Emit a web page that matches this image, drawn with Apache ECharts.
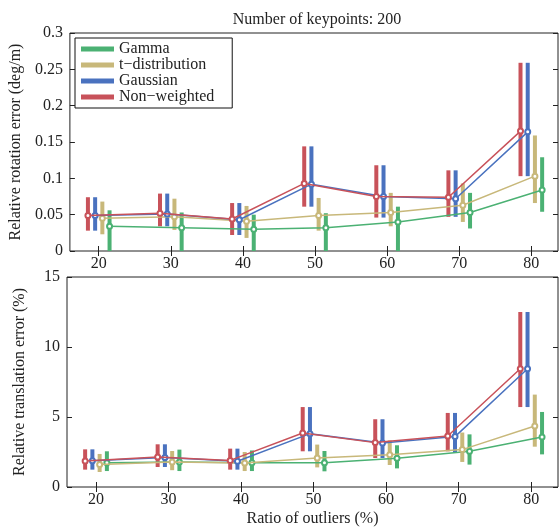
<!DOCTYPE html>
<html><head><meta charset="utf-8">
<script src="https://cdn.jsdelivr.net/npm/echarts@6/dist/echarts.min.js"></script>
<style>html,body{margin:0;padding:0;background:#fff}#c{width:560px;height:529px}</style>
</head><body><div id="c"></div>
<script>
const categories = [20, 30, 40, 50, 60, 70, 80];
const seriesNames = ['Gamma', 't\u2212distribution', 'Gaussian', 'Non\u2212weighted'];
const xTicks = [20, 30, 40, 50, 60, 70, 80];
const rotTicks = [0, 0.05, 0.1, 0.15, 0.2, 0.25, 0.3];
const transTicks = [0, 5, 10, 15];

// Rotation error (deg/m): median, lower, upper
const gammaRot   = [0.034, 0.032, 0.030, 0.032, 0.040, 0.053, 0.084];
const gammaRotLo = [0, 0, 0, 0, 0, 0.031, 0.054];
const gammaRotHi = [0.056, 0.053, 0.050, 0.052, 0.061, 0.080, 0.129];
const tRot   = [0.045, 0.047, 0.041, 0.049, 0.053, 0.063, 0.103];
const tRotLo = [0.023, 0.029, 0.018, 0.028, 0.034, 0.040, 0.066];
const tRotHi = [0.068, 0.072, 0.062, 0.073, 0.080, 0.093, 0.159];
const gaussRot   = [0.049, 0.051, 0.043, 0.092, 0.075, 0.072, 0.164];
const gaussRotLo = [0.028, 0.034, 0.022, 0.061, 0.046, 0.047, 0.103];
const gaussRotHi = [0.074, 0.079, 0.066, 0.144, 0.118, 0.111, 0.259];
const nwRot   = [0.049, 0.052, 0.044, 0.093, 0.075, 0.074, 0.165];
const nwRotLo = [0.028, 0.034, 0.022, 0.061, 0.046, 0.047, 0.103];
const nwRotHi = [0.074, 0.079, 0.066, 0.144, 0.118, 0.111, 0.259];

// Translation error (%): median, lower, upper
const gammaTr   = [1.74, 1.79, 1.74, 1.74, 2.05, 2.55, 3.57];
const gammaTrLo = [1.14, 1.14, 1.14, 1.12, 1.33, 1.60, 2.33];
const gammaTrHi = [2.55, 2.67, 2.61, 2.57, 2.98, 3.76, 5.36];
const tTr   = [1.60, 1.79, 1.71, 2.08, 2.31, 2.67, 4.36];
const tTrLo = [1.07, 1.20, 1.14, 1.40, 1.57, 1.79, 2.88];
const tTrHi = [2.36, 2.57, 2.50, 3.03, 3.33, 3.89, 6.60];
const gaussTr   = [1.87, 2.10, 1.84, 3.81, 3.14, 3.60, 8.45];
const gaussTrLo = [1.24, 1.43, 1.24, 2.55, 2.07, 2.45, 5.71];
const gaussTrHi = [2.69, 3.05, 2.74, 5.71, 4.84, 5.29, 12.50];
const nwTr   = [1.85, 2.14, 1.90, 3.86, 3.17, 3.64, 8.45];
const nwTrLo = [1.24, 1.43, 1.24, 2.55, 2.07, 2.55, 5.71];
const nwTrHi = [2.69, 3.05, 2.74, 5.71, 4.84, 5.29, 12.50];

const colors = ['#4BB173', '#C8B87A', '#4A72BF', '#C8525A'];
const offsets = [1.5, 0.5, -0.5, -1.5];
const FONT = "'Liberation Serif', 'DejaVu Serif', serif";
const TXT = '#222';

const rotSets = [[gammaRot, gammaRotLo, gammaRotHi], [tRot, tRotLo, tRotHi], [gaussRot, gaussRotLo, gaussRotHi], [nwRot, nwRotLo, nwRotHi]];
const trSets = [[gammaTr, gammaTrLo, gammaTrHi], [tTr, tTrLo, tTrHi], [gaussTr, gaussTrLo, gaussTrHi], [nwTr, nwTrLo, nwTrHi]];

function barRender(color) {
  return function (params, api) {
    const x = api.value(0), lo = api.value(1), hi = api.value(2);
    const p1 = api.coord([x, hi]);
    const p2 = api.coord([x, lo]);
    return {
      type: 'rect',
      shape: { x: p1[0] - 2, y: p1[1], width: 4, height: p2[1] - p1[1] },
      style: { fill: color }
    };
  };
}

const series = [];
function addPanel(sets, xi, yi) {
  sets.forEach((s, k) => {
    series.push({
      type: 'custom', name: seriesNames[k], xAxisIndex: xi, yAxisIndex: yi, clip: true,
      renderItem: barRender(colors[k]), itemStyle: { color: colors[k] }, z: 2,
      data: categories.map((c, i) => [c + offsets[k], s[1][i], s[2][i]])
    });
  });
  sets.forEach((s, k) => {
    series.push({
      type: 'line', name: seriesNames[k], xAxisIndex: xi, yAxisIndex: yi,
      symbol: 'emptyCircle', symbolSize: 5, z: 3 + k,
      lineStyle: { color: colors[k], width: 1.5 },
      itemStyle: { color: colors[k], borderWidth: 1 },
      data: categories.map((c, i) => [c + offsets[k], s[0][i]])
    });
  });
}
addPanel(rotSets, 0, 0);
addPanel(trSets, 2, 2);

function xAx(gi, pos, labels, name) {
  return {
    type: 'value', gridIndex: gi, position: pos, min: 16, max: 83.7,
    axisLine: { show: false },
    axisTick: { show: true, inside: true, length: 5, customValues: xTicks, lineStyle: { color: TXT } },
    axisLabel: { show: labels, customValues: xTicks, margin: 5, fontFamily: FONT, fontSize: 16, color: TXT },
    splitLine: { show: false },
    name: name || '', nameLocation: 'middle', nameGap: 24,
    nameTextStyle: { fontFamily: FONT, fontSize: 16, color: TXT }
  };
}
function yAx(gi, pos, labels, max, interval, name) {
  return {
    type: 'value', gridIndex: gi, position: pos, min: 0, max: max, interval: interval,
    axisLine: { show: false },
    axisTick: { show: true, inside: true, length: 5, lineStyle: { color: TXT } },
    axisLabel: { show: labels, margin: 7, fontFamily: FONT, fontSize: 16, color: TXT },
    splitLine: { show: false },
    name: name || '', nameLocation: 'middle', nameGap: 39, nameRotate: 90,
    nameTextStyle: { fontFamily: FONT, fontSize: 16, color: TXT }
  };
}

const option = {
  animation: false,
  backgroundColor: '#fff',
  title: {
    text: 'Number of keypoints: 200', left: 312, top: 7, textAlign: 'center',
    textStyle: { fontFamily: FONT, fontSize: 16, fontWeight: 'normal', color: TXT }
  },
  legend: {
    data: seriesNames.map(n => ({ name: n, icon: 'rect' })),
    orient: 'vertical', left: 75, top: 38,
    itemWidth: 33, itemHeight: 5, itemGap: 0, itemTextGap: 4,
    padding: [3, 18, 3, 6],
    borderColor: '#111', borderWidth: 1,
    textStyle: { fontFamily: FONT, fontSize: 16, color: TXT, lineHeight: 16 }
  },
  grid: [
    { left: 67, top: 33, width: 491, height: 218, show: true, borderColor: '#222', borderWidth: 1, backgroundColor: 'transparent' },
    { left: 67, top: 277, width: 491, height: 210, show: true, borderColor: '#222', borderWidth: 1, backgroundColor: 'transparent' }
  ],
  xAxis: [
    xAx(0, 'bottom', true), xAx(0, 'top', false),
    xAx(1, 'bottom', true, 'Ratio of outliers (%)'), xAx(1, 'top', false)
  ],
  yAxis: [
    yAx(0, 'left', true, 0.3, 0.05, 'Relative rotation error (deg/m)'), yAx(0, 'right', false, 0.3, 0.05),
    yAx(1, 'left', true, 15, 5, 'Relative translation error (%)'), yAx(1, 'right', false, 15, 5)
  ],
  series: series
};
const chart = echarts.init(document.getElementById('c'), null, { renderer: 'canvas' });
chart.setOption(option);
</script>
</body></html>
